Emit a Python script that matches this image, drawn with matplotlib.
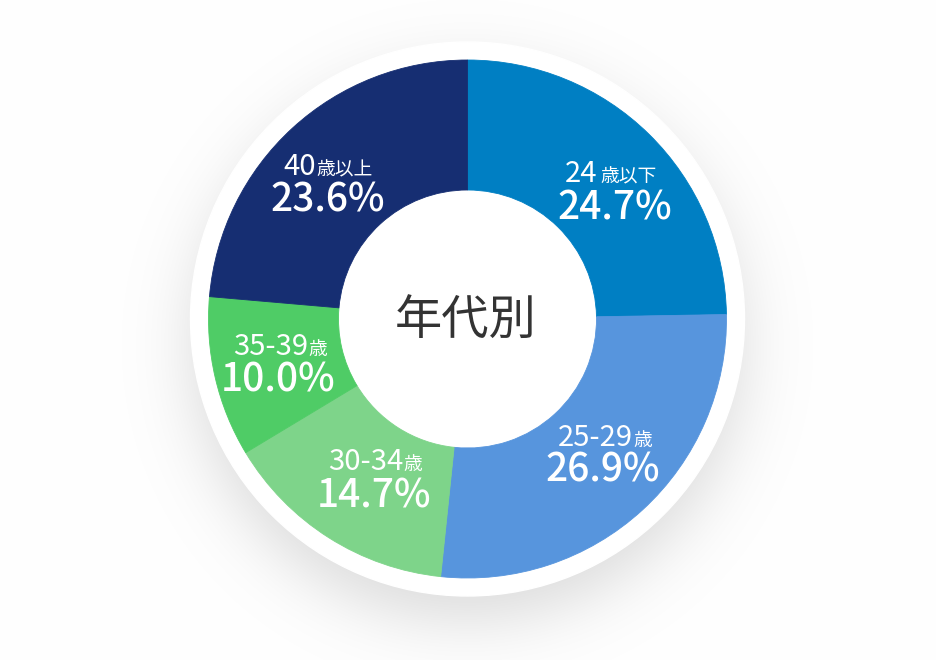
import numpy as np
import matplotlib
matplotlib.use('Agg')
import matplotlib.pyplot as plt
from matplotlib.patches import Circle

plt.rcParams['font.family'] = ['Noto Sans CJK JP', 'DejaVu Sans']

# Data (clockwise from 12 o'clock)
ages = ['24', '25-29', '30-34', '35-39', '40']
suffixes = ['歳以下', '歳', '歳', '歳', '歳以上']
shares = [24.7, 26.9, 14.7, 10.0, 23.6]
colors = ['#007fc3', '#5795dd', '#7ed48a', '#4fcc66', '#162e72']
title = '年代別'

# Canvas in pixels
W, H = 936, 660
cx, cy = 467.5, 319.0
r_pie = 259.0
r_ring = 277.0
r_hole = 129.0

fig = plt.figure(figsize=(W / 100, H / 100), dpi=100)
fig.patch.set_facecolor('white')

# soft drop shadow behind the ring
bg = fig.add_axes([0, 0, 1, 1])
bg.set_xlim(0, W)
bg.set_ylim(H, 0)
bg.axis('off')
yy, xx = np.mgrid[0:H, 0:W] + 0.5
d = np.hypot(xx - cx, yy - 345.0)
shade = 0.14 * 0.5 * (1 + np.tanh((275.0 - d) / 40.0))
img = np.ones((H, W, 3)) * (1 - shade)[..., None]
bg.imshow(img, extent=(0, W, H, 0), interpolation='bilinear')

# donut axes, radius 1 = r_pie pixels
lim = 1.2
aw, ah = 2 * lim * r_pie / W, 2 * lim * r_pie / H
ax = fig.add_axes([(cx - lim * r_pie) / W, (H - cy - lim * r_pie) / H, aw, ah])
ax.axis('off')
ax.patch.set_alpha(0)

ax.add_patch(Circle((0, 0), r_ring / r_pie, color='white', zorder=0))
wedges, _ = ax.pie(shares, colors=colors, startangle=90, counterclock=False,
                   radius=1.0, wedgeprops=dict(width=1 - r_hole / r_pie, linewidth=0.6))
for w, c in zip(wedges, colors):
    w.set_edgecolor(c)
# pie() resets the limits, so set them afterwards
ax.set_xlim(-lim, lim)
ax.set_ylim(-lim, lim)
ax.set_aspect('equal')

# text layer in pixel coordinates
tx = fig.add_axes([0, 0, 1, 1])
tx.set_xlim(0, W)
tx.set_ylim(H, 0)
tx.axis('off')
tx.patch.set_alpha(0)

tx.text(cx - 2, 322, title, ha='center', va='center', fontsize=34, color='#333333')

# (split x, line1 baseline, pct centre x, pct baseline, gap)
label_pos = [(597, 182, 615, 220, 3),
             (633, 446, 603, 482, 0),
             (403, 470, 374, 507, 0),
             (308, 355, 278, 392, 0),
             (316, 175, 328, 212, 0)]
for age, suf, v, (sx, b1, px, b2, gap) in zip(ages, suffixes, shares, label_pos):
    tx.text(sx, b1, age, ha='right', va='baseline', fontsize=21, color='white')
    tx.text(sx + gap, b1, suf, ha='left', va='baseline',
            fontsize=13.5, color='white')
    tx.text(px, b2, '%.1f%%' % v, ha='center', va='baseline', fontsize=28,
            fontweight='medium', color='white')

fig.savefig('out.png', dpi=100, facecolor='white')
